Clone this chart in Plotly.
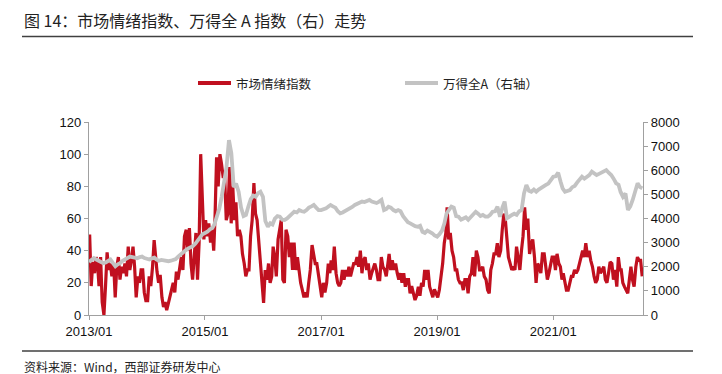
import plotly.graph_objects as go

# ---------------- data ----------------
# Market sentiment index: 3 readings per month (days 5, 15, 25)
red_2013 = [50, 18, 33, 26, 36, 30, 18, 36, 8, 0, 18, 39, 28, 32, 24, 32, 11, 30,
            36, 22, 30, 26, 32, 24, 42.5, 28, 34, 42.5, 30, 11, 24, 20, 28, 28, 14, 9]
red_2014 = [9, 24, 18, 30, 46.6, 32, 27, 20, 25, 11, 5, 8, 3, 7, 11, 17, 20, 14,
            27, 22, 30, 36, 28, 49, 53, 40, 54, 32, 22, 40, 51, 22, 45, 100, 65, 47]
red_2015 = [59, 49, 57, 45, 53, 40, 60, 98, 80, 100, 94, 86, 86, 59, 63, 92, 57, 80,
            59, 70, 49, 53, 49, 38, 32, 24, 28, 28, 49, 59, 82, 63, 59, 47, 30, 20]
red_2016 = [7.5, 28, 22, 32, 20, 24, 42.5, 36, 24, 47, 55, 59, 22, 20, 53, 49, 36, 45,
            28, 45, 28, 36, 28, 20, 15.5, 11, 14, 11, 20, 28, 43.5, 36, 32, 32, 24, 20]
red_2017 = [11, 20, 14, 20, 32, 26, 34, 28, 42.5, 26, 20, 18, 20, 28, 22, 28, 24, 30,
            24, 28, 32, 32, 36, 30, 40, 26, 34, 36, 28, 32, 22, 26, 30, 32, 28, 22]
red_2018 = [22, 36, 30, 28, 24, 32, 38, 28, 34, 28, 32, 26, 22, 26, 20, 26, 17.6, 22,
            22, 13.5, 18, 13.5, 9.3, 12, 17.6, 12, 20, 17.6, 28, 22, 28, 17.6, 14, 11, 16, 13]
red_2019 = [11, 15.5, 22, 32, 44.6, 51, 67, 47, 51, 40, 36, 28, 28, 22, 20, 20, 15.5, 22,
            22, 13.5, 24, 26, 36, 24, 40, 36, 28, 28, 30, 24, 22, 15.5, 13.5, 28, 32, 38]
red_2020 = [38, 44.6, 36, 40, 53, 63, 60, 44.6, 36, 32, 28, 30, 28, 42.5, 34, 28, 40, 49,
            67, 53, 60, 38, 44, 47, 36, 20, 32, 30, 26, 38, 38, 30, 22, 26, 32, 36]
red_2021 = [36, 28, 38, 32, 30, 22, 26, 20, 15.5, 15.5, 20, 24, 24, 28, 26, 28, 32, 36,
            40, 36, 44.6, 36, 40, 34, 30, 24, 20, 22, 30, 26, 28, 30, 22, 20, 26, 33]
red_2022 = [32, 22, 28, 17.6, 36, 28, 28, 20, 17.6, 15.5, 13.5, 22, 30, 22, 17.6,
            30, 36, 34, 34, 24]

# Wind All A index (right axis): 2 readings per month (days 1, 16)
gray_2013 = [2200, 2280, 2360, 2300, 2250, 2200, 2150, 2180, 2250, 2300, 2150, 2020,
             2100, 2150, 2250, 2300, 2380, 2420, 2400, 2380, 2350, 2400, 2420, 2360]
gray_2014 = [2320, 2300, 2350, 2380, 2300, 2250, 2280, 2260, 2220, 2230, 2250, 2280,
             2320, 2420, 2520, 2580, 2680, 2750, 2780, 2850, 2950, 3100, 3250, 3350]
gray_2015 = [3400, 3450, 3550, 3600, 3750, 4100, 4400, 4900, 5400, 6100, 7250, 6700,
             5300, 5450, 5100, 4450, 4100, 4150, 4500, 4800, 4950, 4900, 5050, 5110]
gray_2016 = [4900, 3900, 3660, 3800, 3750, 4000, 4100, 4075, 3950, 3940, 4000, 4100,
             4150, 4280, 4250, 4350, 4300, 4280, 4350, 4450, 4500, 4560, 4450, 4350]
gray_2017 = [4350, 4380, 4420, 4500, 4560, 4500, 4450, 4300, 4215, 4250, 4300, 4350,
             4400, 4480, 4560, 4600, 4650, 4700, 4680, 4720, 4770, 4700, 4650, 4640]
gray_2018 = [4700, 4770, 4350, 4400, 4490, 4450, 4350, 4300, 4350, 4300, 4100, 3940,
             3850, 3800, 3730, 3680, 3660, 3700, 3450, 3400, 3500, 3450, 3390, 3300]
gray_2019 = [3250, 3350, 3500, 3800, 4200, 4350, 4490, 4450, 4100, 4075, 3950, 4000,
             4050, 3950, 4075, 4150, 4280, 4200, 4100, 4145, 4075, 4075, 4150, 4280]
gray_2020 = [4300, 4490, 4075, 4450, 4700, 4010, 4100, 4145, 4200, 4150, 4300, 4350,
             5040, 5390, 5150, 5110, 5200, 5110, 5200, 5250, 5300, 5390, 5450, 5600]
gray_2021 = [5730, 5750, 5900, 5530, 5250, 5110, 5150, 5180, 5300, 5350, 5500, 5600,
             5730, 5650, 5730, 5800, 5940, 5850, 5800, 5850, 5900, 5950, 6010, 5900]
gray_2022 = [5800, 5650, 5460, 5400, 5100, 4900, 5040, 4350, 4500, 4770, 5110, 5460,
             5300, 5250]

red_by_year = {2013: red_2013, 2014: red_2014, 2015: red_2015, 2016: red_2016,
               2017: red_2017, 2018: red_2018, 2019: red_2019, 2020: red_2020,
               2021: red_2021, 2022: red_2022}
gray_by_year = {2013: gray_2013, 2014: gray_2014, 2015: gray_2015, 2016: gray_2016,
                2017: gray_2017, 2018: gray_2018, 2019: gray_2019, 2020: gray_2020,
                2021: gray_2021, 2022: gray_2022}
red_days = [5, 15, 25]
gray_days = [1, 16]

x_tick_vals = ["2013-01-01", "2015-01-01", "2017-01-01", "2019-01-01", "2021-01-01"]
x_tick_text = ["2013/01", "2015/01", "2017/01", "2019/01", "2021/01"]

series_red_name = "市场情绪指数"
series_gray_name = "万得全A（右轴）"
title_text = "图 14：市场情绪指数、万得全 A 指数（右）走势"
source_text = "资料来源：Wind，西部证券研发中心"


def build(by_year, days):
    xs, ys = [], []
    for yr, vals in by_year.items():
        for i, v in enumerate(vals):
            m = i // len(days) + 1
            d = days[i % len(days)]
            xs.append(f"{yr}-{m:02d}-{d:02d}")
            ys.append(v)
    return xs, ys


red_x, red_y = build(red_by_year, red_days)
gray_x, gray_y = build(gray_by_year, gray_days)

RED = "#C0101F"
GRAY = "#C3C3C3"
AXIS = "#A0A0A0"
CJK = "Noto Sans CJK SC"
LAT = "Liberation Sans, Arial, sans-serif"

fig = go.Figure()
fig.add_trace(go.Scatter(x=red_x, y=red_y, mode="lines", name=series_red_name,
                         line=dict(color=RED, width=3.2), yaxis="y", showlegend=False))
fig.add_trace(go.Scatter(x=gray_x, y=gray_y, mode="lines", name=series_gray_name,
                         line=dict(color=GRAY, width=3.8), yaxis="y2", showlegend=False))

# plot area in pixels: x 89..643, y 122..315
PL, PR, PT, PB = 89, 643, 122, 315
W, H = 722, 374


def px(x):
    return (x - PL) / (PR - PL)


def py(y):
    return (PB - y) / (PB - PT)


shapes = [
    dict(type="line", xref="paper", yref="paper", x0=px(22), x1=px(693), y0=py(36.5), y1=py(36.5),
         line=dict(color="#404040", width=1.5)),
    dict(type="line", xref="paper", yref="paper", x0=px(22), x1=px(693), y0=py(351), y1=py(351),
         line=dict(color="#404040", width=1.5)),
    # legend samples
    dict(type="line", xref="paper", yref="paper", x0=px(198), x1=px(231), y0=py(83), y1=py(83),
         line=dict(color=RED, width=4)),
    dict(type="line", xref="paper", yref="paper", x0=px(405), x1=px(438), y0=py(83), y1=py(83),
         line=dict(color=GRAY, width=4)),
]

annotations = [
    dict(text=title_text, xref="paper", yref="paper", x=px(22), y=py(20), xanchor="left",
         yanchor="middle", showarrow=False, font=dict(family=CJK, size=16, color="#222")),
    dict(text=source_text, xref="paper", yref="paper", x=px(22), y=py(366), xanchor="left",
         yanchor="middle", showarrow=False, font=dict(family=CJK, size=12, color="#222")),
    dict(text=series_red_name, xref="paper", yref="paper", x=px(234), y=py(83), xanchor="left",
         yanchor="middle", showarrow=False, font=dict(family=CJK, size=12.5, color="#222")),
    dict(text=series_gray_name, xref="paper", yref="paper", x=px(441), y=py(83), xanchor="left",
         yanchor="middle", showarrow=False, font=dict(family=CJK, size=12.5, color="#222")),
]

fig.update_layout(
    width=W, height=H,
    margin=dict(l=PL, r=W - PR, t=PT, b=H - PB, pad=0),
    paper_bgcolor="white", plot_bgcolor="white",
    showlegend=False,
    shapes=shapes,
    annotations=annotations,
    xaxis=dict(type="date", range=["2013-01-01", "2022-07-20"],
               tickvals=x_tick_vals, ticktext=x_tick_text,
               ticks="outside", ticklen=4, tickcolor=AXIS, tickwidth=1,
               showline=True, linecolor=AXIS, linewidth=1.2, showgrid=False, zeroline=False,
               tickfont=dict(family=LAT, size=13, color="#111")),
    yaxis=dict(range=[0, 120], dtick=20, tick0=0, ticks="outside", ticklen=4,
               tickcolor=AXIS, showline=True, linecolor=AXIS, linewidth=1.2,
               showgrid=False, zeroline=False,
               tickfont=dict(family=LAT, size=13, color="#111")),
    yaxis2=dict(range=[0, 8000], dtick=1000, tick0=0, overlaying="y", side="right",
                ticks="outside", ticklen=4, tickcolor=AXIS, showline=True, linecolor=AXIS,
                linewidth=1.2, showgrid=False, zeroline=False,
                tickfont=dict(family=LAT, size=13, color="#111")),
)

fig.write_html(
    "out.html",
    config={"displayModeBar": False},
    post_script="document.body.style.margin='0px';document.body.style.overflow='hidden';",
)
